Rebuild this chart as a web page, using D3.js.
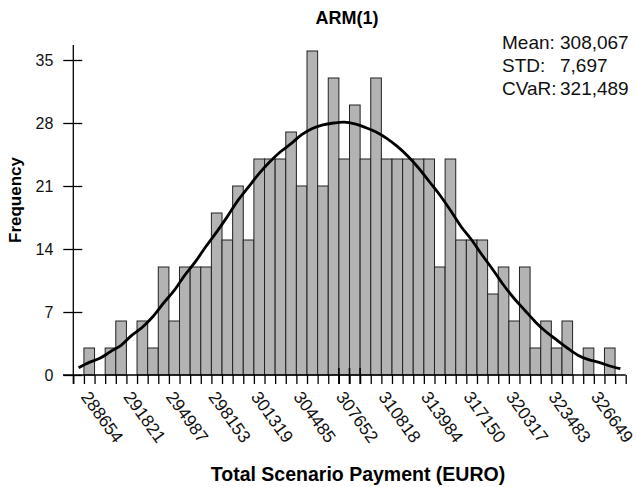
<!DOCTYPE html>
<html lang="en">
<head>
  <meta charset="UTF-8">
  <title>ARM(1) histogram</title>
  <script src="https://d3js.org/d3.v7.min.js"></script>
  <style>
    body { margin: 0; background: #fff; }
    text { font-family: "Liberation Sans", Arial, Helvetica, sans-serif; }
  </style>
</head>
<body>
  <div id="chart"></div>
  <script>
    // frequency of each bin (52 bins, left to right)
    var counts = [0, 3, 0, 3, 6, 0, 6, 3, 12, 6, 12, 12, 12, 18, 15, 21, 15, 24, 24, 24,
                  27, 21, 36, 21, 33, 24, 30, 24, 33, 24, 24, 24, 24, 24, 12, 24, 15, 15, 15, 9,
                  12, 6, 12, 3, 6, 3, 6, 0, 3, 0, 3, 0];
    var fitted = [0.8, 1.4, 1.85, 2.6, 3.3, 4.4, 5.3, 6.5, 8.0, 9.4, 11.1, 12.6, 14.3, 15.9, 17.6, 19.4,
                  20.9, 22.4, 23.7, 24.8, 25.7, 26.7, 27.4, 27.8, 28.0, 28.1, 27.9, 27.5, 27.0, 26.3,
                  25.4, 24.3, 23.0, 21.5, 20.0, 18.3, 16.5, 15.0, 13.3, 11.7, 10.0, 8.5, 7.2, 5.9,
                  4.8, 3.9, 3.0, 2.2, 1.7, 1.4, 1.0, 0.7];
    // x labels (bin centres, every 4th bin starting at bin 1)
    var tickLabels = [288654, 291821, 294987, 298153, 301319, 304485, 307652,
                      310818, 313984, 317150, 320317, 323483, 326649];
    var yTicks = [0, 7, 14, 21, 28, 35];
    var statNames = ["Mean:", "STD:", "CVaR:"];
    var statValues = ["308,067", "7,697", "321,489"];
    // bin edges with the taller marker ticks
    var markEdges = [25, 26, 27];

    var W = 636, H = 487;
    var left = 73.3, right = 625.7, base = 375;

    var nBins = counts.length;
    var binW = (tickLabels[tickLabels.length - 1] - tickLabels[0]) / ((tickLabels.length - 1) * 4);
    var x0 = tickLabels[0] - 1.5 * binW;
    var edges = d3.range(nBins + 1).map(function(i) { return x0 + i * binW; });

    var svg = d3.select("#chart").append("svg")
      .attr("width", W)
      .attr("height", H);

    var x = d3.scaleLinear().domain([x0, x0 + nBins * binW]).range([left, right]);
    var y = d3.scaleLinear().domain([0, 35]).range([base, 60]);

    // stats text
    statNames.forEach(function(s, i) {
      svg.append("text").attr("x", 502).attr("y", 48.5 + i * 23)
        .style("font-size", "19px").style("fill", "#111").text(s);
      svg.append("text").attr("x", 560).attr("y", 48.5 + i * 23)
        .style("font-size", "19px").style("fill", "#111").text(statValues[i]);
    });

    // bars
    svg.selectAll("rect.bar")
      .data(counts)
      .enter()
      .append("rect")
        .attr("class", "bar")
        .attr("x", function(d, i) { return x(edges[i]); })
        .attr("y", function(d) { return y(d); })
        .attr("width", function(d, i) { return x(edges[i + 1]) - x(edges[i]); })
        .attr("height", function(d) { return base - y(d); })
        .style("fill", function(d) { return d > 0 ? "#b3b3b3" : "none"; })
        .style("stroke", function(d) { return d > 0 ? "#222" : "none"; })
        .style("stroke-width", 1);

    // fitted curve
    var line = d3.line()
      .x(function(d, i) { return x(edges[i] + binW / 2); })
      .y(function(d) { return y(d); })
      .curve(d3.curveCatmullRom);
    svg.append("path")
      .datum(fitted)
      .attr("d", line)
      .style("fill", "none")
      .style("stroke", "#000")
      .style("stroke-width", 2.8);

    // y axis
    var yAxis = svg.append("g")
      .attr("transform", "translate(" + left + ",0)")
      .call(d3.axisLeft(y).tickValues(yTicks).tickSizeOuter(0).tickSizeInner(10).tickPadding(10));
    yAxis.select(".domain").remove();
    yAxis.selectAll(".tick line").attr("x1", 9).attr("x2", -10).style("stroke", "#000").style("stroke-width", 1.3);
    yAxis.selectAll(".tick text").style("font-size", "16px").style("font-family", "Liberation Sans, Arial, sans-serif").style("fill", "#111");
    svg.append("line")
      .attr("x1", left).attr("x2", left).attr("y1", 45).attr("y2", base + 9)
      .style("stroke", "#000").style("stroke-width", 1.3);

    // x axis with a tick on each bin edge
    var xAxis = svg.append("g")
      .attr("transform", "translate(0," + base + ")")
      .call(d3.axisBottom(x).tickValues(edges).tickFormat("").tickSizeOuter(0).tickSizeInner(9));
    xAxis.select(".domain").remove();
    xAxis.selectAll(".tick line").style("stroke", "#000").style("stroke-width", 1.3);
    svg.append("line")
      .attr("x1", 63).attr("x2", right).attr("y1", base).attr("y2", base)
      .style("stroke", "#000").style("stroke-width", 1.3);
    svg.selectAll("line.mark")
      .data(markEdges)
      .enter()
      .append("line")
        .attr("class", "mark")
        .attr("x1", function(d) { return x(edges[d]); })
        .attr("x2", function(d) { return x(edges[d]); })
        .attr("y1", base - 7).attr("y2", base + 9)
        .style("stroke", "#000").style("stroke-width", 1.6);

    // rotated x labels
    svg.selectAll("text.xlab")
      .data(tickLabels)
      .enter()
      .append("text")
        .attr("class", "xlab")
        .attr("transform", function(d) { return "translate(" + (x(d) - 9) + ",397) rotate(54)"; })
        .style("font-size", "17.5px")
        .style("fill", "#111")
        .text(function(d) { return d; });

    // title and axis titles
    svg.append("text")
      .attr("x", 347).attr("y", 24)
      .attr("text-anchor", "middle")
      .style("font-size", "18px").style("font-weight", "bold")
      .text("ARM(1)");

    svg.append("text")
      .attr("x", 358).attr("y", 481)
      .attr("text-anchor", "middle")
      .style("font-size", "19.5px").style("font-weight", "bold")
      .text("Total Scenario Payment (EURO)");

    svg.append("text")
      .attr("transform", "translate(20.5,200) rotate(-90)")
      .attr("text-anchor", "middle")
      .style("font-size", "17px").style("font-weight", "bold")
      .text("Frequency");
  </script>
</body>
</html>
